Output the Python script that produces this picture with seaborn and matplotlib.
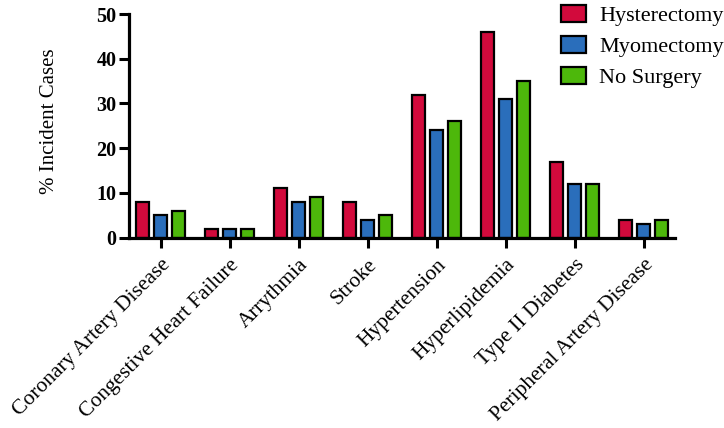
import numpy as np
import pandas as pd
import seaborn as sns
import matplotlib.pyplot as plt

# Incident cases (%) by comorbidity and surgery group
conditions = ['Coronary Artery Disease', 'Congestive Heart Failure', 'Arrythmia', 'Stroke',
              'Hypertension', 'Hyperlipidemia', 'Type II Diabetes', 'Peripheral Artery Disease']
groups = ['Hysterectomy', 'Myomectomy', 'No Surgery']
hysterectomy = [8, 2, 11, 8, 32, 46, 17, 4]
myomectomy = [5, 2, 8, 4, 24, 31, 12, 3]
no_surgery = [6, 2, 9, 5, 26, 35, 12, 4]
colors = ['#D20A3C', '#2A6EBB', '#4DB80B']


def build_data() -> pd.DataFrame:
    frames = []
    for name, vals in zip(groups, [hysterectomy, myomectomy, no_surgery]):
        frames.append(pd.DataFrame({'condition': conditions, 'group': name, 'value': vals}))
    return pd.concat(frames, ignore_index=True)


def main() -> None:
    data = build_data()

    sns.set_style('ticks', {'axes.edgecolor': 'black', 'text.color': 'black',
                            'axes.labelcolor': 'black', 'xtick.color': 'black',
                            'ytick.color': 'black'})
    plt.rcParams['font.family'] = 'serif'
    plt.rcParams['font.serif'] = ['Liberation Serif', 'DejaVu Serif']

    fig = plt.figure(figsize=(7.24, 4.28), dpi=100)
    ax = fig.add_axes([0.178, 0.445, 0.754, 0.522])

    sns.barplot(data=data, x='condition', y='value', hue='group', hue_order=groups,
                palette=colors, width=0.78, gap=0.28, edgecolor='black', linewidth=1.6,
                saturation=1, ax=ax)

    ax.set_ylim(0, 50)
    ax.set_xlim(-0.46, 7.45)
    ax.set_yticks([0, 10, 20, 30, 40, 50])
    ax.set_ylabel('% Incident Cases', fontsize=15)
    ax.yaxis.set_label_coords(-0.128, 0.52)
    ax.set_xlabel('')
    for lbl in ax.get_yticklabels():
        lbl.set_fontweight('bold')
        lbl.set_fontsize(14.5)
    ax.set_xticks(range(len(conditions)))
    ax.set_xticklabels(conditions, rotation=45, ha='right', rotation_mode='anchor', fontsize=15.5)
    ax.tick_params(axis='x', length=7, width=2.2, pad=6)
    ax.tick_params(axis='y', length=7, width=2.2, pad=2)

    sns.despine(ax=ax)
    for side in ['left', 'bottom']:
        ax.spines[side].set_linewidth(2.3)

    ax.legend(loc='upper left', bbox_to_anchor=(0.775, 0.988), bbox_transform=fig.transFigure,
              frameon=False, fontsize=16, handlelength=1.1, handleheight=0.8,
              handletextpad=0.6, labelspacing=0.44, borderaxespad=0, borderpad=0)

    plt.savefig('out.png', dpi=100)


if __name__ == "__main__":
    main()
